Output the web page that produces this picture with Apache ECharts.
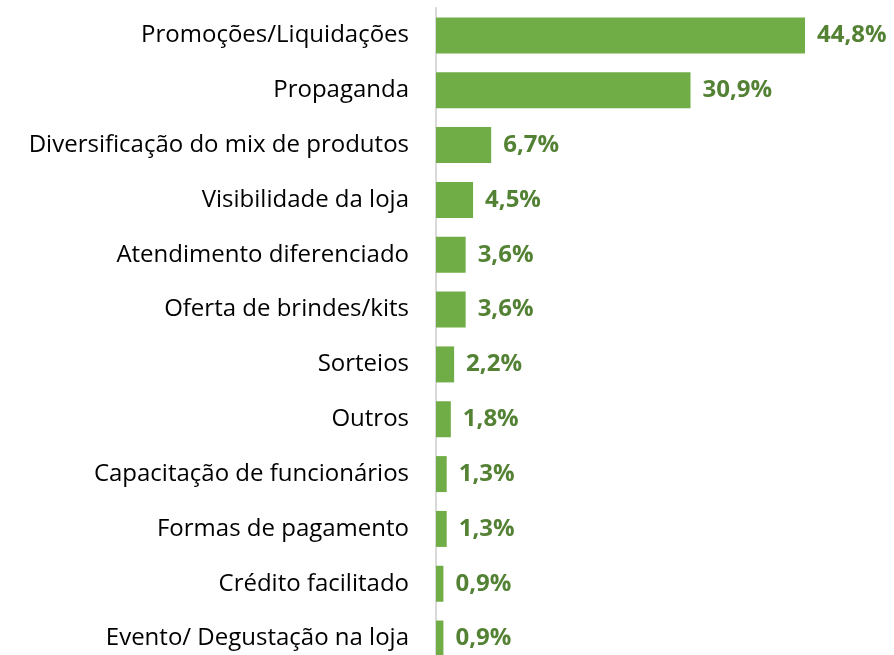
<!DOCTYPE html>
<html>
<head>
<meta charset="utf-8">
<script src="https://cdn.jsdelivr.net/npm/echarts@6/dist/echarts.min.js"></script>
<style>
  html, body { margin: 0; padding: 0; background: #fff; }
  #chart { width: 894px; height: 655px; }
</style>
</head>
<body>
<div id="chart"></div>
<script>
// categories, top to bottom
var categories = [
  'Promoções/Liquidações',
  'Propaganda',
  'Diversificação do mix de produtos',
  'Visibilidade da loja',
  'Atendimento diferenciado',
  'Oferta de brindes/kits',
  'Sorteios',
  'Outros',
  'Capacitação de funcionários',
  'Formas de pagamento',
  'Crédito facilitado',
  'Evento/ Degustação na loja'
];
var values = [44.8, 30.9, 6.7, 4.5, 3.6, 3.6, 2.2, 1.8, 1.3, 1.3, 0.9, 0.9];

var chart = echarts.init(document.getElementById('chart'));
chart.setOption({
  animation: false,
  grid: {
    left: 436,
    top: 8,
    width: 453,
    height: 658,
    outerBoundsMode: 'none'
  },
  xAxis: {
    type: 'value',
    min: 0,
    max: 55,
    show: false
  },
  yAxis: {
    type: 'category',
    inverse: true,
    data: categories,
    axisTick: { show: false },
    axisLine: {
      lineStyle: { color: '#d9d9d9', width: 2 }
    },
    axisLabel: {
      margin: 27,
      color: '#000',
      fontFamily: 'Open Sans',
      fontSize: 24
    }
  },
  series: [
    {
      type: 'bar',
      data: values,
      barWidth: 36,
      itemStyle: { color: '#70ad47' },
      label: {
        show: true,
        position: 'right',
        distance: 12,
        color: '#548235',
        fontFamily: 'Open Sans',
        fontWeight: 'bold',
        fontSize: 24,
        formatter: function (p) {
          return p.value.toFixed(1).replace('.', ',') + '%';
        }
      }
    }
  ]
});
</script>
</body>
</html>
